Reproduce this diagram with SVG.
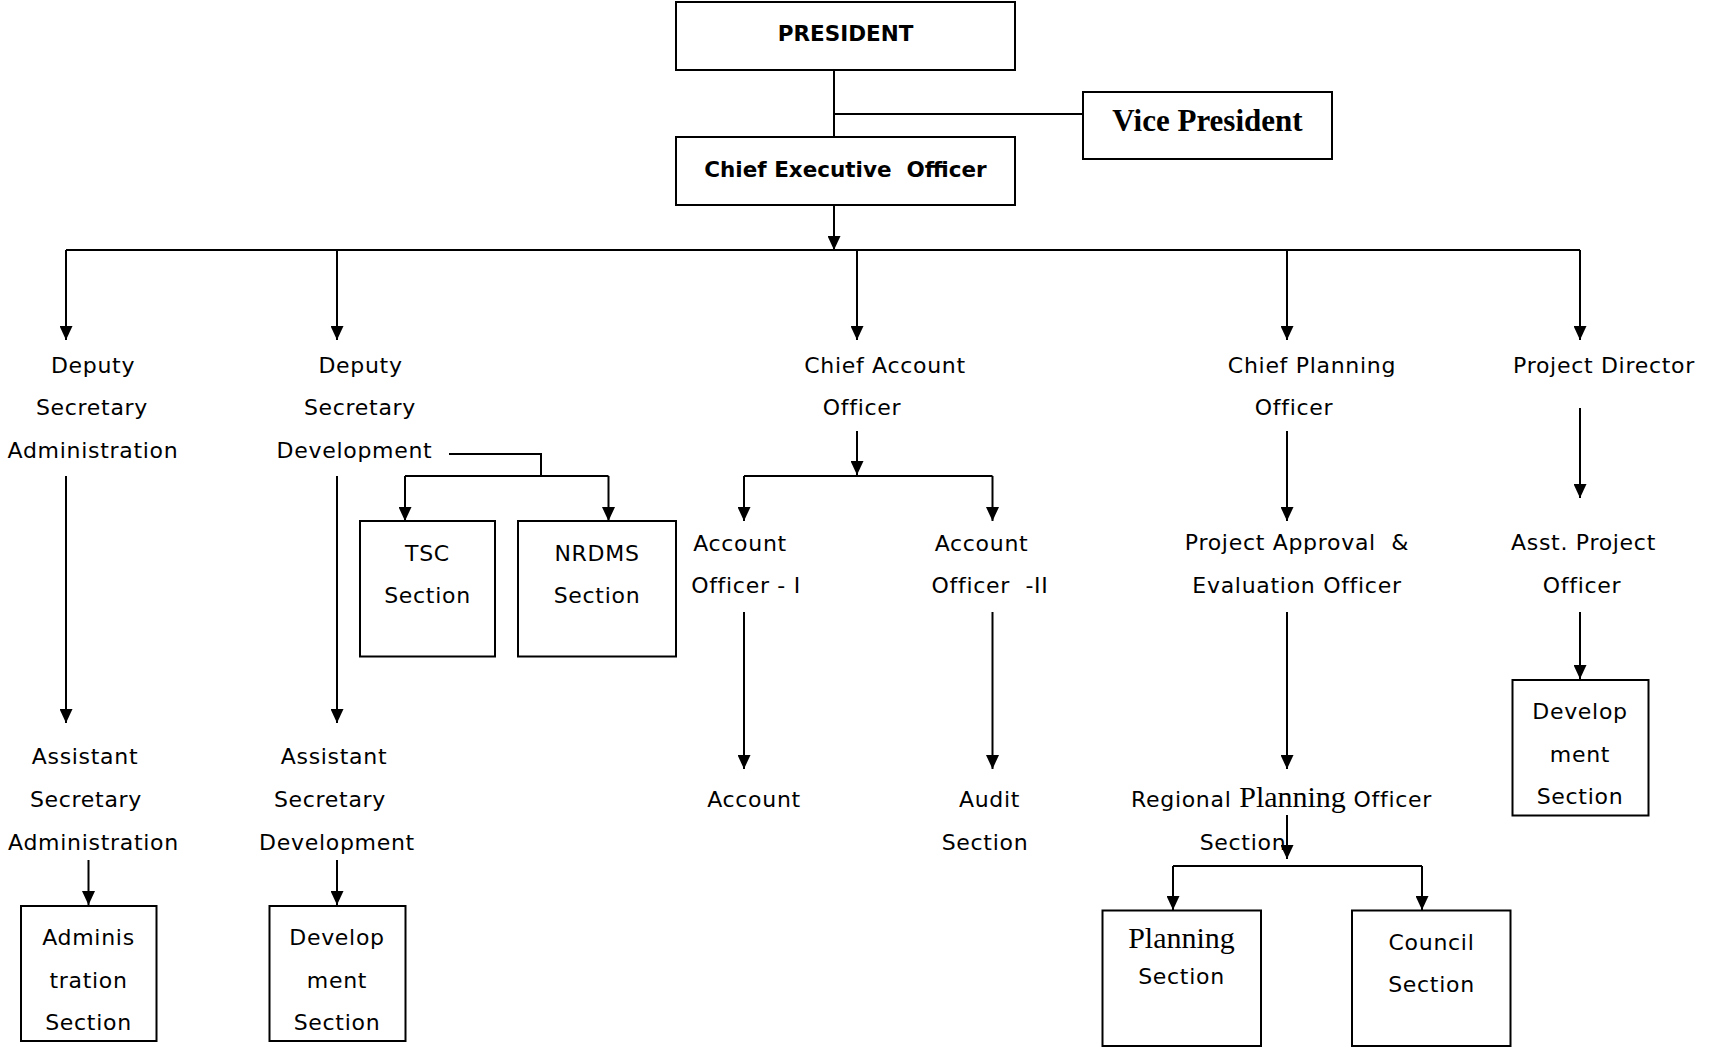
<svg xmlns="http://www.w3.org/2000/svg" width="1710" height="1048" viewBox="0 0 1710 1048">
<defs>
<marker id="arr" viewBox="0 0 14 13" refX="14" refY="6.5" markerWidth="14" markerHeight="13" markerUnits="userSpaceOnUse" orient="auto">
<path d="M0,0 L14,6.5 L0,13 z" fill="#000"/>
</marker>
<style>
.box{fill:#fff;stroke:#000;stroke-width:2}
.ln{fill:none;stroke:#000;stroke-width:2}
.ar{fill:none;stroke:#000;stroke-width:2;marker-end:url(#arr)}
.t{font-family:"DejaVu Sans",Verdana,sans-serif;font-size:22px;letter-spacing:0.7px;fill:#000;text-anchor:middle}
.b{font-family:"DejaVu Sans",Verdana,sans-serif;font-size:21.5px;font-weight:bold;fill:#000;text-anchor:middle}
.s{font-family:"Liberation Serif","Times New Roman",serif;fill:#000}
</style>
</defs>
<rect width="1710" height="1048" fill="#fff"/>

<g id="connectors">
<path class="ln" d="M834,70 V137"/>
<path class="ln" d="M834,114 H1083"/>
<path class="ar" d="M834,205 V250"/>
<path class="ln" d="M66,250 H1580"/>
<path class="ar" d="M66,250 V340"/>
<path class="ar" d="M337,250 V340"/>
<path class="ar" d="M857,250 V340"/>
<path class="ar" d="M1287,250 V340"/>
<path class="ar" d="M1580,250 V340"/>
<path class="ar" d="M66,476 V723"/>
<path class="ar" d="M337,476 V723"/>
<path class="ln" d="M449,454 H541 V476"/>
<path class="ln" d="M405,476 H608.5"/>
<path class="ar" d="M405,476 V521"/>
<path class="ar" d="M608.5,476 V521"/>
<path class="ar" d="M88.5,860 V905"/>
<path class="ar" d="M337,860 V905"/>
<path class="ar" d="M857,431 V475"/>
<path class="ln" d="M744,476 H992.5"/>
<path class="ar" d="M744,476 V521"/>
<path class="ar" d="M992.5,476 V521"/>
<path class="ar" d="M744,612 V769"/>
<path class="ar" d="M992.5,612 V769"/>
<path class="ar" d="M1287,431 V521"/>
<path class="ar" d="M1287,612 V769"/>
<path class="ar" d="M1287,815 V859"/>
<path class="ln" d="M1173,866 H1422"/>
<path class="ar" d="M1173,866 V910"/>
<path class="ar" d="M1422,866 V910"/>
<path class="ar" d="M1580,408 V498"/>
<path class="ar" d="M1580,612 V679"/>
</g>

<g id="president">
<rect class="box" x="676" y="2" width="339" height="68"/>
<text class="b" x="845.5" y="41">PRESIDENT</text>
</g>
<g id="vice-president">
<rect class="box" x="1083" y="92" width="249" height="67"/>
<text class="s" x="1207.5" y="131" font-size="31" font-weight="bold" text-anchor="middle">Vice President</text>
</g>
<g id="ceo">
<rect class="box" x="676" y="137" width="339" height="68"/>
<text class="b" x="845.5" y="177" xml:space="preserve">Chief Executive  Officer</text>
</g>

<g id="dep-sec-admin">
<text class="t" x="93" y="373">Deputy</text>
<text class="t" x="92" y="415">Secretary</text>
<text class="t" x="93" y="458">Administration</text>
</g>
<g id="dep-sec-dev">
<text class="t" x="360.5" y="373">Deputy</text>
<text class="t" x="360" y="415">Secretary</text>
<text class="t" x="354.5" y="458">Development</text>
</g>
<g id="tsc">
<rect class="box" x="360" y="521" width="135" height="135.5"/>
<text class="t" x="427.5" y="561">TSC</text>
<text class="t" x="427.5" y="603">Section</text>
</g>
<g id="nrdms">
<rect class="box" x="518" y="521" width="158" height="135.5"/>
<text class="t" x="597" y="561">NRDMS</text>
<text class="t" x="597" y="603">Section</text>
</g>
<g id="asst-sec-admin">
<text class="t" x="85" y="764">Assistant</text>
<text class="t" x="86" y="807">Secretary</text>
<text class="t" x="93.5" y="850">Administration</text>
</g>
<g id="admin-section">
<rect class="box" x="21" y="906" width="135.5" height="135"/>
<text class="t" x="88.5" y="945">Adminis</text>
<text class="t" x="88.5" y="988">tration</text>
<text class="t" x="88.5" y="1030">Section</text>
</g>
<g id="asst-sec-dev">
<text class="t" x="334" y="764">Assistant</text>
<text class="t" x="330" y="807">Secretary</text>
<text class="t" x="337" y="850">Development</text>
</g>
<g id="dev-section-left">
<rect class="box" x="269.5" y="906" width="136" height="135"/>
<text class="t" x="337" y="945">Develop</text>
<text class="t" x="337" y="988">ment</text>
<text class="t" x="337" y="1030">Section</text>
</g>

<g id="chief-account">
<text class="t" x="885" y="373">Chief Account</text>
<text class="t" x="862" y="415">Officer</text>
</g>
<g id="account-officer-1">
<text class="t" x="740" y="551">Account</text>
<text class="t" x="746" y="593">Officer - I</text>
</g>
<g id="account-officer-2">
<text class="t" x="981.5" y="551">Account</text>
<text class="t" x="990" y="593" xml:space="preserve">Officer  -II</text>
</g>
<g id="account">
<text class="t" x="754" y="807">Account</text>
</g>
<g id="audit">
<text class="t" x="989.5" y="807">Audit</text>
<text class="t" x="985" y="850">Section</text>
</g>

<g id="chief-planning">
<text class="t" x="1312" y="373">Chief Planning</text>
<text class="t" x="1294" y="415">Officer</text>
</g>
<g id="project-approval">
<text class="t" x="1297" y="550" xml:space="preserve">Project Approval  &amp;</text>
<text class="t" x="1297" y="593">Evaluation Officer</text>
</g>
<g id="regional-planning">
<text class="t" x="1131" y="807" style="text-anchor:start">Regional <tspan class="s" font-size="30" letter-spacing="0">Planning</tspan> Officer</text>
<text class="t" x="1243" y="850">Section</text>
</g>
<g id="planning-section">
<rect class="box" x="1102.5" y="910.5" width="158.5" height="135.5"/>
<text class="s" x="1181.5" y="948" font-size="30" text-anchor="middle">Planning</text>
<text class="t" x="1181.5" y="984">Section</text>
</g>
<g id="council-section">
<rect class="box" x="1352" y="910.5" width="158.5" height="135.5"/>
<text class="t" x="1431.5" y="950">Council</text>
<text class="t" x="1431.5" y="992">Section</text>
</g>

<g id="project-director">
<text class="t" x="1604" y="373">Project Director</text>
</g>
<g id="asst-project-officer">
<text class="t" x="1583.5" y="550">Asst. Project</text>
<text class="t" x="1582" y="593">Officer</text>
</g>
<g id="dev-section-right">
<rect class="box" x="1512.5" y="680" width="136" height="135.5"/>
<text class="t" x="1580" y="719">Develop</text>
<text class="t" x="1580" y="762">ment</text>
<text class="t" x="1580" y="804">Section</text>
</g>
</svg>
